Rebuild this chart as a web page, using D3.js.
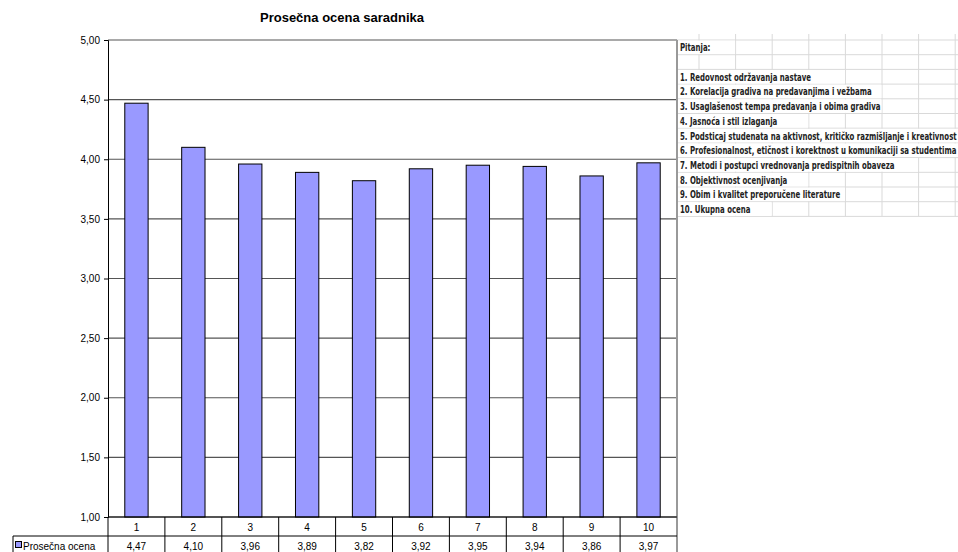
<!DOCTYPE html>
<html>
<head>
<meta charset="utf-8">
<script src="https://cdn.jsdelivr.net/npm/d3@7"></script>
<style>
  body { margin: 0; background: #fff; }
  svg { display: block; font-family: Arial, "Liberation Sans", sans-serif; }
</style>
</head>
<body>
<div id="chart"></div>
<script>
var categories = ["1","2","3","4","5","6","7","8","9","10"];
var values = [4.47, 4.10, 3.96, 3.89, 3.82, 3.92, 3.95, 3.94, 3.86, 3.97];
var yTicks = [1.0, 1.5, 2.0, 2.5, 3.0, 3.5, 4.0, 4.5, 5.0];
var seriesName = "Prosečna ocena";
var title = "Prosečna ocena saradnika";
var sheetLines = [
  "Pitanja:",
  "",
  "1. Redovnost održavanja nastave",
  "2. Korelacija gradiva na predavanjima i vežbama",
  "3. Usaglašenost tempa predavanja i obima gradiva",
  "4. Jasnoća i stil izlaganja",
  "5. Podsticaj studenata na aktivnost, kritičko razmišljanje i kreativnost",
  "6. Profesionalnost, etičnost i korektnost u komunikaciji sa studentima",
  "7. Metodi i postupci vrednovanja predispitnih obaveza",
  "8. Objektivnost ocenjivanja",
  "9. Obim i kvalitet preporučene literature",
  "10. Ukupna ocena"
];

function init(){
    var w = 958, h = 552;
    var pLeft = 108, pRight = 677, pTop = 40, pBottom = 517;
    var fmt = function(v){ return v.toFixed(2).replace(".", ","); };

    var svg = d3.select("#chart").append("svg")
        .attr("width", w).attr("height", h);

    var xScale = d3.scaleBand().domain(categories).range([pLeft, pRight]);
    var yScale = d3.scaleLinear().domain([1, 5]).range([pBottom, pTop]);

    // spreadsheet area on the right
    var sheet = svg.append("g");
    var colX = d3.range(0, 8).map(function(i){ return 699 + i * 36.6; });
    var rowH = 14.7;
    var squeeze = 0.74;
    var rowY = d3.range(0, sheetLines.length + 1).map(function(i){ return pTop + i * rowH; });
    sheet.selectAll("line.v").data(colX).enter().append("line")
        .attr("x1", function(d){ return d; }).attr("x2", function(d){ return d; })
        .attr("y1", pTop - 6).attr("y2", rowY[rowY.length - 1])
        .attr("stroke", "#d9d9d9");
    sheet.selectAll("line.h").data(rowY).enter().append("line")
        .attr("x1", pRight).attr("x2", w)
        .attr("y1", function(d){ return d; }).attr("y2", function(d){ return d; })
        .attr("stroke", "#d9d9d9");
    var rows = sheet.selectAll("g.row").data(sheetLines).enter().append("g");
    rows.append("rect");
    rows.append("text")
        .attr("transform", function(d, i){
            return "translate(680," + (rowY[i] + 11.3) + ") scale(" + squeeze + ",1)";
        })
        .style("font-family", "'Liberation Sans Narrow', 'DejaVu Sans Condensed', sans-serif")
        .style("font-weight", "bold")
        .style("font-size", "10.5px")
        .attr("fill", "#222")
        .text(function(d){ return d; });
    rows.each(function(d, i){
        if (!d) return;
        var g = d3.select(this);
        var end = 680 + g.select("text").node().getComputedTextLength() * squeeze;
        var stop = colX.find(function(c){ return c >= end; }) || w + 2;
        g.select("rect").attr("x", pRight + 1).attr("y", rowY[i] + 0.6)
            .attr("width", stop - pRight - 1.5).attr("height", rowH - 1.2)
            .attr("fill", "#fff");
    });

    // title
    svg.append("text")
        .attr("x", 342).attr("y", 22)
        .attr("text-anchor", "middle")
        .style("font-weight", "bold").style("font-size", "13px")
        .text(title);

    // grid lines
    svg.selectAll("line.grid").data(yTicks).enter().append("line")
        .attr("x1", pLeft).attr("x2", pRight)
        .attr("y1", function(d){ return yScale(d); })
        .attr("y2", function(d){ return yScale(d); })
        .attr("stroke", "#555").attr("stroke-width", 1.1);

    // right frame
    svg.append("line")
        .attr("x1", pRight).attr("x2", pRight).attr("y1", pTop).attr("y2", h)
        .attr("stroke", "#999").attr("stroke-width", 2);

    // bars
    var bw = xScale.bandwidth() * 0.41;
    svg.selectAll("rect.bar").data(values).enter().append("rect")
        .attr("x", function(d, i){ return xScale(categories[i]) + (xScale.bandwidth() - bw) / 2; })
        .attr("y", function(d){ return yScale(d); })
        .attr("width", bw)
        .attr("height", function(d){ return yScale(1) - yScale(d); })
        .attr("fill", "#9999FF").attr("stroke", "#000").attr("stroke-width", 1);

    // y axis
    var yAxis = d3.axisLeft(yScale).tickValues(yTicks).tickSize(4).tickPadding(4).tickFormat(fmt);
    var ya = svg.append("g").attr("transform", "translate(" + pLeft + ",0)").call(yAxis);
    ya.select(".domain").attr("stroke", "#000");
    ya.selectAll("line").attr("stroke", "#000");
    ya.selectAll("text").style("font-size", "10px")
        .style("font-family", "Arial, 'Liberation Sans', sans-serif").attr("fill", "#000");

    // data table
    var r1 = pBottom, r2 = 536, r3 = 560;
    var tbl = svg.append("g");
    tbl.append("line").attr("x1", pLeft).attr("x2", pRight).attr("y1", r1).attr("y2", r1).attr("stroke", "#000");
    tbl.append("line").attr("x1", 13).attr("x2", pRight).attr("y1", r2).attr("y2", r2).attr("stroke", "#000");
    var bounds = categories.map(function(c){ return xScale(c); });
    tbl.selectAll("line.cb").data(bounds).enter().append("line")
        .attr("x1", function(d){ return d; }).attr("x2", function(d){ return d; })
        .attr("y1", r1).attr("y2", r3).attr("stroke", "#000");
    tbl.append("line").attr("x1", 13).attr("x2", 13).attr("y1", r2).attr("y2", r3).attr("stroke", "#000");
    tbl.selectAll("text.cat").data(categories).enter().append("text")
        .attr("x", function(d){ return xScale(d) + xScale.bandwidth() / 2; })
        .attr("y", 530.5).attr("text-anchor", "middle")
        .style("font-size", "10px").text(function(d){ return d; });
    tbl.selectAll("text.val").data(values).enter().append("text")
        .attr("x", function(d, i){ return xScale(categories[i]) + xScale.bandwidth() / 2; })
        .attr("y", 549.5).attr("text-anchor", "middle")
        .style("font-size", "10px").text(function(d){ return fmt(d); });
    tbl.append("rect").attr("x", 15.5).attr("y", 541.5).attr("width", 6).attr("height", 6)
        .attr("fill", "#9999FF").attr("stroke", "#000");
    tbl.append("text").attr("x", 23).attr("y", 549.5)
        .style("font-size", "10px").text(seriesName);
}
init();
</script>
</body>
</html>
